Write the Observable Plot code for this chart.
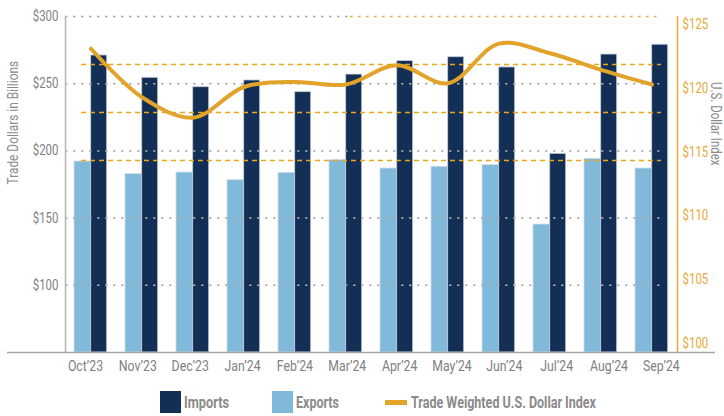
<!DOCTYPE html>
<html><head><meta charset="utf-8">
<script src="https://cdn.jsdelivr.net/npm/d3@7"></script>
<script src="https://cdn.jsdelivr.net/npm/@observablehq/plot@0.6"></script>
<style>
body{margin:0;background:#fff;}
#chart{width:724px;height:416px;position:relative;font-family:Roboto,"Noto Sans",sans-serif;}
#chart svg{display:block;}
.legend{position:absolute;top:380px;left:0;width:724px;height:36px;}
.item{position:absolute;top:11px;display:flex;align-items:center;height:22px;font-size:17px;font-weight:bold;color:#8a8a8a;white-space:nowrap;}
.item span{display:inline-block;transform-origin:0 50%;}
.sw{width:21px;height:22px;margin-right:3px;flex:none;}
.ln{width:22px;height:5px;margin-right:4px;flex:none;}
</style></head>
<body><div id="chart"></div>
<script>
const months = ["Oct’23","Nov’23","Dec’23","Jan’24","Feb’24","Mar’24","Apr’24","May’24","Jun’24","Jul’24","Aug’24","Sep’24"];
const imports = [271.0, 254.4, 247.4, 252.4, 243.7, 256.8, 266.8, 269.7, 262.1, 197.8, 271.7, 279.0];
const exports = [192.1, 182.7, 183.9, 178.2, 183.7, 193.1, 186.9, 188.2, 189.4, 145.2, 194.1, 186.9];
const dollarIndex = [123.1, 119.3, 117.7, 120.1, 120.5, 120.3, 121.8, 120.4, 123.5, 122.75, 121.45, 120.3];
const leftTicks = [100, 150, 200, 250, 300];
const rightTicks = [100, 105, 110, 115, 120, 125];
const seriesNames = ["Imports", "Exports", "Trade Weighted U.S. Dollar Index"];

const colImp = "#132f56", colExp = "#80b9d9", colLine = "#e2a32a", colOrange = "#e8a83a";
// secondary axis (index) expressed in primary-axis units
const toLeft = r => 56.7 + (r - 100) * 9.494;
const toRight = l => 100 + (l - 56.7) / 9.494;

const impData = months.map((m, i) => ({month: m, value: imports[i]}));
const expData = months.map((m, i) => ({month: m, value: exports[i]}));
const lineData = months.map((m, i) => ({month: m, value: toLeft(dollarIndex[i])}));
const orangeGrid = [1, 2, 3].map(k => 300 - 250 / 7 * k);

const chart = Plot.plot({
  width: 724, height: 380,
  marginTop: 16, marginBottom: 28, marginLeft: 65, marginRight: 47,
  style: {fontFamily: 'Roboto,"Noto Sans",sans-serif', fontSize: "14px", background: "#fff"},
  x: {type: "band", domain: months, padding: 0},
  y: {domain: [50, 300]},
  marks: [
    Plot.barY(expData, {x: "month", y1: 50, y2: "value", fill: colExp, insetLeft: 9, insetRight: 25.3, stroke: "#d3dce6", strokeWidth: 0.8}),
    Plot.barY(impData, {x: "month", y1: 50, y2: "value", fill: colImp, insetLeft: 25.7, insetRight: 9.3, stroke: "#c5cfdb", strokeWidth: 0.8}),
    Plot.ruleY(leftTicks.filter(d => d < 300), {stroke: "#a9a9a9", strokeWidth: 1.5, strokeDasharray: "2.5,5.5", insetRight: 16}),
    Plot.ruleY([300], {stroke: "#a9a9a9", strokeWidth: 1.5, strokeDasharray: "2.5,5.5", insetRight: 327}),
    Plot.ruleY([300], {stroke: colOrange, strokeWidth: 1.5, strokeDasharray: "2.5,5.5", insetLeft: 285, insetRight: 16}),
    Plot.ruleY(orangeGrid, {stroke: "#e9a51c", strokeWidth: 1.5, strokeDasharray: "5,4", insetLeft: 16, insetRight: 16}),
    Plot.ruleY([50], {stroke: "#a6a6a6", strokeWidth: 1.5, insetLeft: -58, insetRight: -38}),
    Plot.ruleX([months[0]], {dx: -25.5, y1: 50, y2: 300, stroke: "#b5b5b5", strokeWidth: 1.5}),
    Plot.ruleX([months[months.length - 1]], {dx: 25.5, y1: 50, y2: 300, stroke: colOrange, strokeWidth: 1.5}),
    Plot.line(lineData, {x: "month", y: "value", stroke: colLine, strokeWidth: 4, curve: "catmull-rom"}),
    Plot.axisY(leftTicks, {anchor: "left", tickSize: 0, tickPadding: 7, tickFormat: d => "$" + d, color: "#7f7f7f", label: null}),
    Plot.axisY(rightTicks.map(toLeft), {anchor: "right", tickSize: 0, tickPadding: 5, tickFormat: d => "$" + Math.round(toRight(d)), color: colOrange, label: null}),
    Plot.axisX({tickSize: 0, tickPadding: 8, color: "#808080", label: null, fontSize: 15}),
    Plot.text(["Trade Dollars in Billions"], {frameAnchor: "left", dx: -52, rotate: -90, fill: "#8a8a8a", fontSize: 14.5}),
    Plot.text(["U.S. Dollar Index"], {frameAnchor: "right", dx: 38, dy: -19, rotate: 90, fill: "#8a8a8a", fontSize: 14})
  ]
});
// narrow the type to mimic the condensed face of the reference
chart.querySelectorAll("text").forEach(t => {
  const tr = t.getAttribute("transform");
  if (tr) t.setAttribute("transform", tr + " scale(0.82,1)");
  else {
    const x = t.getAttribute("x") || 0;
    t.setAttribute("x", 0);
    t.setAttribute("transform", `translate(${x},0) scale(0.82,1)`);
  }
});
// the reference's month labels drift slightly wider than the bar groups
const xLabels = chart.querySelectorAll('g[aria-label="x-axis tick label"] text');
xLabels.forEach((t, i) => {
  const shift = -5.5 + i * 1.35;
  t.setAttribute("transform", `translate(${shift},0) ` + t.getAttribute("transform"));
});
const root = document.getElementById("chart");
root.appendChild(chart);

const legend = document.createElement("div");
legend.className = "legend";
const lefts = [160, 272, 385];
const textWidths = [45, 43, 185];
const swatches = [
  `<div class="sw" style="background:${colImp}"></div>`,
  `<div class="sw" style="background:${colExp}"></div>`,
  `<div class="ln" style="background:${colLine}"></div>`
];
root.appendChild(legend);
seriesNames.forEach((name, i) => {
  const it = document.createElement("div");
  it.className = "item";
  it.style.left = lefts[i] + "px";
  it.innerHTML = swatches[i] + `<span>${name}</span>`;
  legend.appendChild(it);
  const sp = it.querySelector("span");
  const w = sp.getBoundingClientRect().width;
  if (w > 0) sp.style.transform = `scaleX(${textWidths[i] / w})`;
});
</script>
</body></html>
